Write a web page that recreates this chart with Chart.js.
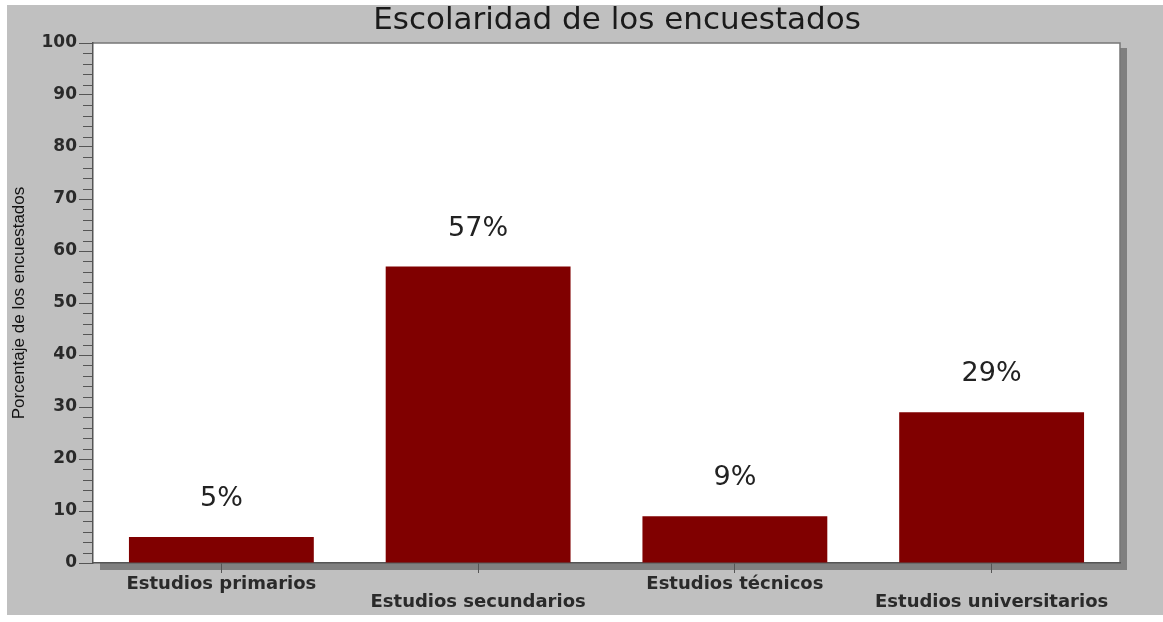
<!DOCTYPE html>
<html>
<head>
<meta charset="utf-8">
<title>Escolaridad de los encuestados</title>
<script src="https://cdn.jsdelivr.net/npm/chart.js@4.4.0/dist/chart.umd.min.js"></script>
<style>
  html, body { margin: 0; padding: 0; background: #fff; }
  #wrap { width: 1163px; height: 622px; }
</style>
</head>
<body>
<div id="wrap"><canvas id="barChart"></canvas></div>
<script>
// datos
var titulo = 'Escolaridad de los encuestados';
var categorias = ['Estudios primarios', 'Estudios secundarios', 'Estudios técnicos', 'Estudios universitarios'];
var porcentajes = [5, 57, 9, 29];
var marcasY = [0, 10, 20, 30, 40, 50, 60, 70, 80, 90, 100];
var marcasMenores = 2; // cada 2 puntos

var gris = '#c0c0c0';
var lineas = '#555';

// fondo gris, sombra, area blanca y titulo
var fondo = {
  id: 'fondo',
  beforeDraw: function (chart) {
    var c = chart.ctx, a = chart.chartArea;
    c.save();
    c.fillStyle = '#fff';
    c.fillRect(0, 0, chart.width, chart.height);
    c.fillStyle = gris;
    c.fillRect(7, 5, chart.width - 7, chart.height - 12);
    c.fillStyle = '#808080';
    c.fillRect(a.right, a.top + 5, 7, a.bottom - a.top + 2);
    c.fillRect(a.left + 7, a.bottom, a.right - a.left, 7);
    c.fillStyle = '#fff';
    c.fillRect(a.left, a.top, a.right - a.left, a.bottom - a.top);
    c.strokeStyle = '#777';
    c.lineWidth = 1.5;
    c.beginPath();
    c.moveTo(a.left, a.top);
    c.lineTo(a.right, a.top);
    c.lineTo(a.right, a.bottom);
    c.stroke();
    c.fillStyle = '#1a1a1a';
    c.font = '31px "DejaVu Sans"';
    c.textAlign = 'center';
    c.textBaseline = 'middle';
    c.fillText(titulo, 617, 21);
    c.restore();
  }
};

// marcas menores del eje y y etiquetas de porcentaje
var extras = {
  id: 'extras',
  afterDatasetsDraw: function (chart) {
    var c = chart.ctx, a = chart.chartArea, y = chart.scales.y;
    c.save();
    c.strokeStyle = lineas;
    c.lineWidth = 1;
    for (var v = y.min; v <= y.max; v += marcasMenores) {
      if (v % 10 === 0) continue;
      var py = Math.round(y.getPixelForValue(v)) + 0.5;
      c.beginPath();
      c.moveTo(a.left - 10, py);
      c.lineTo(a.left, py);
      c.stroke();
    }
    c.fillStyle = '#222';
    c.font = '27px "DejaVu Sans"';
    c.textAlign = 'center';
    c.textBaseline = 'middle';
    chart.getDatasetMeta(0).data.forEach(function (bar, i) {
      c.fillText(porcentajes[i] + '%', bar.x, bar.y - 38);
    });
    c.restore();
  }
};

var ctx = document.getElementById('barChart').getContext('2d');
var grafica = new Chart(ctx, {
  type: 'bar',
  data: {
    labels: categorias,
    datasets: [{
      data: porcentajes,
      backgroundColor: '#800000',
      borderWidth: 0,
      categoryPercentage: 1,
      barPercentage: 0.72
    }]
  },
  options: {
    responsive: true,
    maintainAspectRatio: false,
    animation: false,
    layout: { padding: { left: 7, right: 43, top: 43, bottom: 9 } },
    plugins: {
      legend: { display: false },
      tooltip: { enabled: false },
      title: { display: false }
    },
    scales: {
      x: {
        afterFit: function (s) { s.height = 50; },
        grid: { display: true, offset: false, drawOnChartArea: false, tickLength: 10, color: lineas },
        border: { display: true, color: lineas, width: 1.5 },
        ticks: {
          autoSkip: false,
          maxRotation: 0,
          padding: 2,
          color: '#2a2a2a',
          font: { family: 'DejaVu Sans', size: 18, weight: 'bold', lineHeight: 1 },
          callback: function (v, i) {
            // etiquetas alternadas en dos alturas
            return i % 2 ? ['', categorias[i]] : categorias[i];
          }
        }
      },
      y: {
        min: marcasY[0],
        max: marcasY[marcasY.length - 1],
        afterFit: function (s) { s.width = 86; },
        afterBuildTicks: function (s) {
          s.ticks = marcasY.map(function (v) { return { value: v }; });
        },
        grid: { drawOnChartArea: false, tickLength: 14, color: lineas },
        border: { display: true, color: lineas, width: 1.5 },
        ticks: {
          padding: 2,
          color: '#2a2a2a',
          font: { family: 'DejaVu Sans', size: 17, weight: 'bold' }
        },
        title: {
          display: true,
          text: 'Porcentaje de los encuestados',
          color: '#111',
          font: { family: 'Liberation Sans', size: 17 },
          padding: { top: 2, bottom: 0 }
        }
      }
    }
  },
  plugins: [fondo, extras]
});
</script>
</body>
</html>
